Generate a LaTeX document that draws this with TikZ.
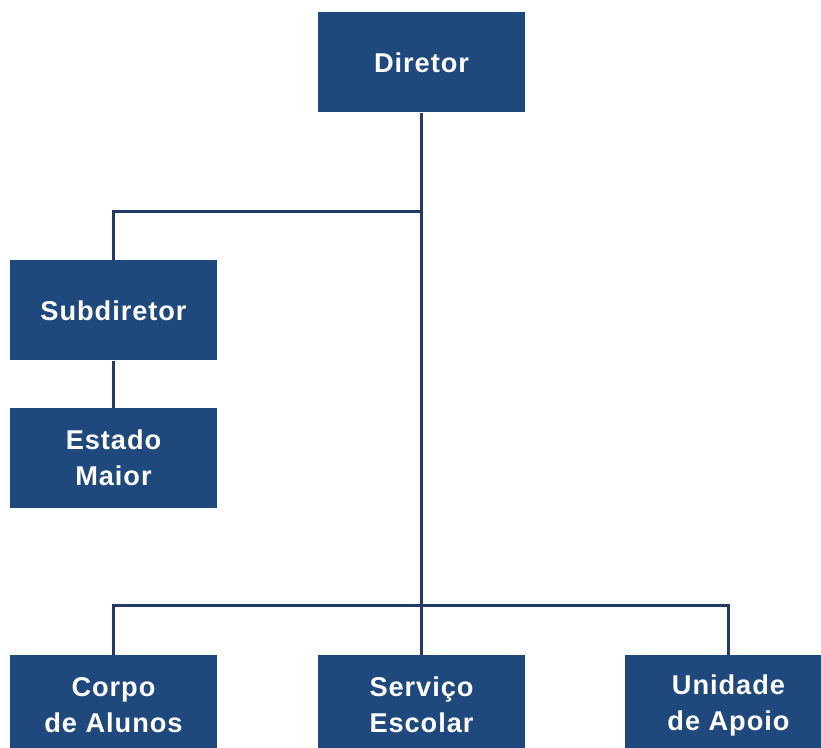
\documentclass[tikz,border=0pt]{standalone}
\usepackage{fontspec}
\setmainfont{Liberation Sans}[LetterSpace=3.5]
\definecolor{caixa}{RGB}{31,73,125}
\definecolor{linha}{RGB}{36,58,102}
\tikzset{
  cargo/.style={fill=caixa, draw=none, text=white, font=\bfseries\fontsize{13.6}{18}\selectfont,
    minimum width=103.5pt, minimum height=50pt, align=center, inner sep=0pt},
  ligacao/.style={draw=linha, line width=1.5pt}
}
\begin{document}
\begin{tikzpicture}[x=0.5pt, y=-0.5pt]
        \useasboundingbox (0, 0) rectangle (821, 748);
        % nivel 1
        \node [cargo] (diretor) at (421.5, 62.5) {Diretor};
        % ramo esquerdo
        \node [cargo] (subdiretor) at (113.5, 310.5) {Subdiretor};
        \node [cargo] (estado) at (113.5, 458) {Estado\\Maior};
        % nivel inferior
        \node [cargo] (corpo) at (113.5, 705) {Corpo\\de Alunos};
        \node [cargo] (servico) at (421.5, 705) {Serviço\\Escolar};
        \node [cargo] (unidade) at (728.5, 705) {Unidade\\de Apoio};

        \coordinate (ramo) at (421.5, 212);
        \coordinate (barra) at (421.5, 606);

        \draw [ligacao] (diretor) -- (servico);
        \draw [ligacao] (ramo) -| (subdiretor);
        \draw [ligacao] (subdiretor) -- (estado);
        \draw [ligacao] (corpo) |- (barra) -| (unidade);
        \end{tikzpicture}
\end{document}
